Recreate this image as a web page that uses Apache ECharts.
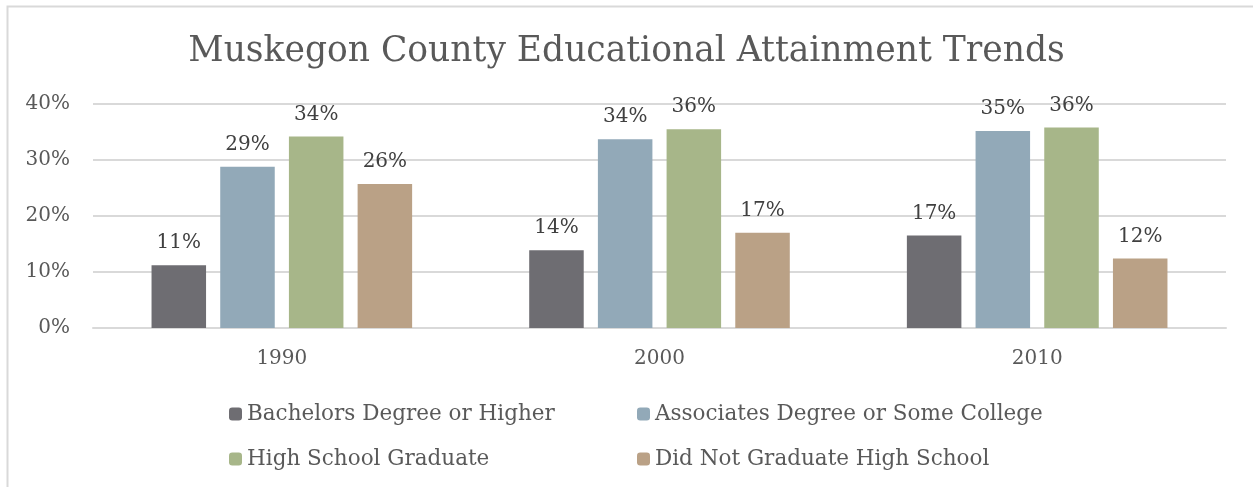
<!DOCTYPE html>
<html>
<head>
<meta charset="utf-8">
<title>Muskegon County Educational Attainment Trends</title>
<script src="https://cdn.jsdelivr.net/npm/echarts@6/dist/echarts.min.js"></script>
<style>
	html, body { margin: 0; padding: 0; background: #fff; }
	#mychart { width: 1253px; height: 487px; }
</style>
</head>
<body>
<div id="mychart"></div>
<script>
	// data (percent)
	const years = ['1990', '2000', '2010']
	const bachelors = [11.2, 13.9, 16.5]
	const associates = [28.8, 33.7, 35.2]
	const highSchool = [34.2, 35.5, 35.8]
	const noDiploma = [25.7, 17.0, 12.4]
	const yTicks = [0, 10, 20, 30, 40]

	const names = [
		'Bachelors Degree or Higher',
		'Associates Degree or Some College',
		'High School Graduate',
		'Did Not Graduate High School'
	]
	const colors = ['#6e6d72', '#92a9b8', '#a7b689', '#baa186']
	const font = '"DejaVu Serif", serif'

	function makeSeries(name, data, color) {
		return {
			name: name,
			type: 'bar',
			data: data,
			barGap: '26%',
			barCategoryGap: '31%',
			itemStyle: { color: color },
			label: {
				show: true,
				position: 'top',
				distance: 12,
				color: '#404040',
				fontFamily: font,
				fontSize: 20,
				formatter: function (p) {
					return Math.round(p.value) + '%'
				}
			}
		}
	}

	const chart = echarts.init(document.getElementById('mychart'))
	var option = {
		backgroundColor: '#fff',
		animation: false,
		title: {
			text: 'Muskegon County Educational Attainment Trends',
			left: 'center',
			top: 30,
			textStyle: {
				fontFamily: font,
				fontWeight: 'normal',
				fontSize: 34.5,
				color: '#595959'
			}
		},
		graphic: [
			{
				type: 'rect',
				shape: { x: 7.5, y: 6.5, width: 1400, height: 700 },
				style: { fill: 'none', stroke: '#d9d9d9', lineWidth: 2 },
				silent: true
			}
		],
		legend: [
			{
				orient: 'vertical',
				left: 224,
				top: 398,
				itemWidth: 13,
				itemHeight: 13,
				itemGap: 23,
				data: [names[0], names[2]],
				textStyle: { fontFamily: font, fontSize: 21.5, color: '#595959' }
			},
			{
				orient: 'vertical',
				left: 632,
				top: 398,
				itemWidth: 13,
				itemHeight: 13,
				itemGap: 23,
				data: [names[1], names[3]],
				textStyle: { fontFamily: font, fontSize: 21.5, color: '#595959' }
			}
		],
		grid: {
			left: 93,
			right: 27,
			top: 104,
			bottom: 159
		},
		xAxis: {
			type: 'category',
			data: years,
			axisTick: { show: false },
			axisLine: { lineStyle: { color: '#d9d9d9', width: 2 } },
			axisLabel: {
				margin: 21,
				fontFamily: font,
				fontSize: 20,
				color: '#595959'
			}
		},
		yAxis: {
			type: 'value',
			min: yTicks[0],
			max: yTicks[yTicks.length - 1],
			interval: 10,
			splitLine: { lineStyle: { color: '#d9d9d9', width: 2 } },
			axisLabel: {
				margin: 23,
				fontFamily: font,
				fontSize: 20,
				color: '#595959',
				formatter: '{value}%'
			}
		},
		series: [
			makeSeries(names[0], bachelors, colors[0]),
			makeSeries(names[1], associates, colors[1]),
			makeSeries(names[2], highSchool, colors[2]),
			makeSeries(names[3], noDiploma, colors[3])
		]
	}
	chart.setOption(option)
	window.addEventListener('resize', function () {
		chart.resize()
	})
</script>
</body>
</html>
